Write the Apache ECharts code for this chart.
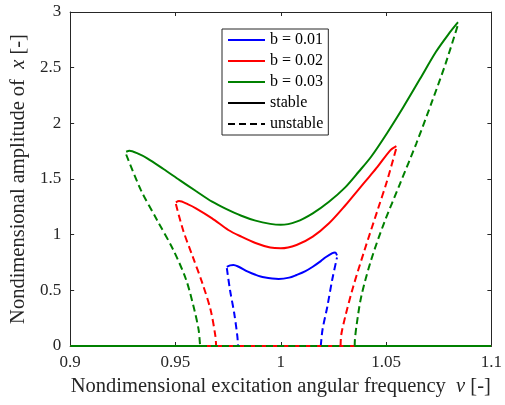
<!DOCTYPE html>
<html><head><meta charset="utf-8">
<script src="https://cdn.jsdelivr.net/npm/echarts@6/dist/echarts.min.js"></script>
<style>html,body{margin:0;padding:0;background:#fff}#c{width:505px;height:405px}</style>
</head><body><div id="c"></div>
<script>
const xTicks = [0.9, 0.95, 1, 1.05, 1.1];
const yTicks = [0, 0.5, 1, 1.5, 2, 2.5, 3];
const legendNames = ['b = 0.01', 'b = 0.02', 'b = 0.03', 'stable', 'unstable'];

// b = 0.01
const blueStable = [[0.9744,0.710],[0.9760,0.724],[0.9775,0.728],[0.9800,0.712],[0.9844,0.668],[0.9880,0.640],[0.992,0.617],[0.999,0.602],[1.004,0.614],[1.0075,0.638],[1.0115,0.670],[1.0152,0.712],[1.0190,0.762],[1.0213,0.797],[1.0245,0.835],[1.0258,0.840],[1.0267,0.815]];
const blueUnstableL = [[0.9744,0.700],[0.9759,0.503],[0.9779,0.294],[0.9794,0.084],[0.9797,0]];
const blueUnstableR = [[1.019,0],[1.0198,0.144],[1.0221,0.353],[1.0244,0.593],[1.0267,0.795]];
const blueZero = [0.9797, 1.019];

// b = 0.02
const redStable = [[0.9502,1.290],[0.9517,1.302],[0.9560,1.272],[0.9597,1.237],[0.9674,1.147],[0.9751,1.042],[0.9813,0.982],[0.9880,0.925],[0.9950,0.884],[1.0000,0.877],[1.0075,0.907],[1.0152,0.982],[1.0229,1.102],[1.0306,1.262],[1.0367,1.401],[1.0420,1.520],[1.046,1.611],[1.0521,1.760],[1.0549,1.796]];
const redUnstableL = [[0.9502,1.275],[0.9536,1.042],[0.9582,0.802],[0.9628,0.563],[0.9667,0.323],[0.969,0.084],[0.9693,0]];
const redUnstableR = [[1.0284,0],[1.0287,0.099],[1.0306,0.263],[1.0344,0.533],[1.0398,0.862],[1.046,1.222],[1.0506,1.491],[1.0549,1.78]];
const redZero = [0.9693, 1.0284];

// b = 0.03
const greenStable = [[0.9266,1.745],[0.9282,1.754],[0.9320,1.730],[0.9366,1.686],[0.9443,1.59],[0.952,1.49],[0.9597,1.392],[0.9674,1.296],[0.9740,1.232],[0.9813,1.170],[0.9880,1.126],[0.9950,1.097],[1.0000,1.088],[1.0075,1.117],[1.0152,1.192],[1.0229,1.296],[1.0306,1.425],[1.0370,1.565],[1.0429,1.700],[1.0506,1.916],[1.0583,2.149],[1.0660,2.395],[1.0737,2.643],[1.0800,2.810],[1.0837,2.898],[1.0842,2.907]];
const greenUnstableL = [[0.9266,1.72],[0.9336,1.40],[0.9413,1.13],[0.949,0.862],[0.9551,0.593],[0.959,0.323],[0.961,0.144],[0.9617,0]];
const greenUnstableR = [[1.0351,0],[1.0352,0.054],[1.0359,0.173],[1.0382,0.443],[1.0429,0.772],[1.049,1.102],[1.0567,1.461],[1.0644,1.821],[1.0721,2.21],[1.0783,2.539],[1.0842,2.89]];
const greenZero = [0.9617, 1.0351];

const FONT = 'Liberation Serif';
const AX = '#262626';
const DASH = [7, 4];
const LW = 2;

function line(name, data, color, dashed) {
  return {
    type: 'line', name: name, data: data, showSymbol: false, symbol: 'none',
    smooth: 0.3, clip: false,
    lineStyle: { color: color, width: LW, type: dashed ? DASH : 'solid' },
    itemStyle: { color: color }, emphasis: { disabled: true }, silent: true
  };
}
function group(label, color, stable, uL, uR, zero) {
  const x0 = xTicks[0], x1 = xTicks[xTicks.length - 1];
  return [
    line(label + ' zs1', [[x0,0],[zero[0],0]], color, false),
    line(label + ' zs2', [[zero[1],0],[x1,0]], color, false),
    line(label + ' zu', [[zero[0],0],[zero[1],0]], color, true),
    line(label, stable, color, false),
    line(label + ' uL', uL, color, true),
    line(label + ' uR', uR, color, true)
  ];
}

const series = [].concat(
  group(legendNames[0], '#0000ff', blueStable, blueUnstableL, blueUnstableR, blueZero),
  group(legendNames[1], '#ff0000', redStable, redUnstableL, redUnstableR, redZero),
  group(legendNames[2], '#008000', greenStable, greenUnstableL, greenUnstableR, greenZero),
  [line(legendNames[3], [], '#000000', false), line(legendNames[4], [], '#000000', true)]
);

const tickFmt = v => String(+(+v).toFixed(2));
const baseX = {
  type: 'value', min: xTicks[0], max: xTicks[xTicks.length - 1], interval: 0.05,
  splitLine: { show: false },
  axisLine: { show: true, onZero: false, lineStyle: { color: AX, width: 1 } },
  axisTick: { show: true, inside: true, length: 4, lineStyle: { color: AX } }
};
const baseY = {
  type: 'value', min: yTicks[0], max: yTicks[yTicks.length - 1], interval: 0.5,
  splitLine: { show: false },
  axisLine: { show: true, onZero: false, lineStyle: { color: AX, width: 1 } },
  axisTick: { show: true, inside: true, length: 4, lineStyle: { color: AX } }
};

const option = {
  animation: false,
  backgroundColor: '#fff',
  grid: { left: 64, right: 8, top: 12, bottom: 59, containLabel: false },
  legend: {
    data: legendNames, orient: 'vertical', left: 222, top: 29,
    itemWidth: 37, itemHeight: 14, itemGap: 5, padding: [3, 5, 3, 5],
    borderColor: AX, borderWidth: 1, backgroundColor: '#fff', selectedMode: false,
    itemStyle: { opacity: 0 },
    textStyle: { fontFamily: FONT, fontSize: 16, color: '#000' }
  },
  xAxis: [
    Object.assign({}, baseX, {
      position: 'bottom',
      axisLabel: { show: true, margin: 8, fontFamily: FONT, fontSize: 17, color: AX, formatter: tickFmt },
      name: '{t|Nondimensional excitation angular frequency  }{i|\u03bd}{t| [-]}',
      nameLocation: 'middle', nameGap: 30,
      nameTextStyle: {
        fontFamily: FONT, fontSize: 20.5, color: AX,
        rich: { t: { fontFamily: FONT, fontSize: 20.5, color: AX }, i: { fontFamily: FONT, fontSize: 20.5, fontStyle: 'italic', color: AX } }
      }
    }),
    Object.assign({}, baseX, { position: 'top', axisLabel: { show: false } })
  ],
  yAxis: [
    Object.assign({}, baseY, {
      position: 'left',
      axisLabel: { show: true, margin: 9, fontFamily: FONT, fontSize: 17, color: AX, formatter: tickFmt },
      name: '{t|Nondimensional amplitude of  }{i|x}{t| [-]}',
      nameLocation: 'middle', nameGap: 30,
      nameTextStyle: {
        fontFamily: FONT, fontSize: 20.5, color: AX,
        rich: { t: { fontFamily: FONT, fontSize: 20.5, color: AX }, i: { fontFamily: FONT, fontSize: 20.5, fontStyle: 'italic', color: AX } }
      }
    }),
    Object.assign({}, baseY, { position: 'right', axisLabel: { show: false } })
  ],
  series: series
};

const chart = echarts.init(document.getElementById('c'), null, { renderer: 'canvas' });
chart.setOption(option);
</script>
</body></html>
